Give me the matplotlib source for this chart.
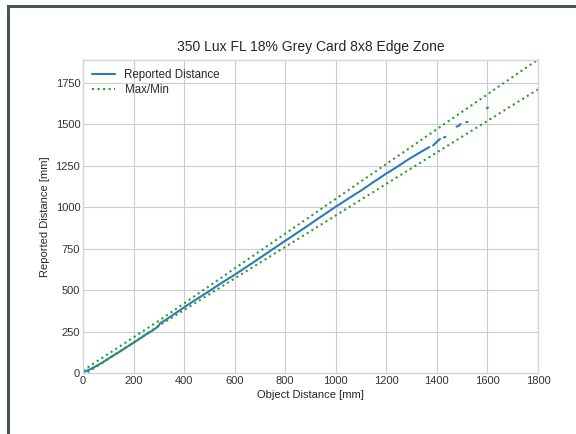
import numpy as np
import matplotlib
matplotlib.use("Agg")
from matplotlib import pyplot as plt
from matplotlib.lines import Line2D

# Reported distance readings (mm); NaN breaks the line where readings are missing
object_distance = [
    5, 25, 50, 75, 100, 125, 150, 175, 200, 225, 250, 275, 290, 300, 305,
    325, 350, 375, 400, 425, 450, 475, 500, 525, 550, 575, 600, 625, 650,
    675, 700, 725, 750, 775, 800, 825, 850, 875, 900, 925, 950, 975, 1000,
    1025, 1050, 1075, 1100, 1125, 1150, 1175, 1200, 1225, 1250, 1275, 1300,
    1325, 1350, 1370, np.nan,
    1385, 1400, 1412, np.nan,
    1428, 1434, np.nan,
    1478, 1486, 1494, np.nan,
    1516, 1521, np.nan,
    1597, 1602,
]
reported_distance = [
    8, 20, 40, 62, 86, 110, 133, 158, 182, 207, 233, 256, 272, 286, 300,
    318, 344, 370, 396, 421, 446, 470, 494, 520, 545, 569, 592, 618, 643,
    668, 694, 720, 746, 771, 797, 822, 848, 873, 899, 926, 951, 977, 1003,
    1027, 1052, 1076, 1100, 1126, 1152, 1177, 1203, 1226, 1250, 1276, 1300,
    1322, 1345, 1362, np.nan,
    1372, 1394, 1411, np.nan,
    1420, 1424, np.nan,
    1485, 1490, 1501, np.nan,
    1512, 1514, np.nan,
    1597, 1600,
]

# tolerance envelope: +/-15 mm up to 300 mm, +/-5 % beyond
bound_x = [0, 300, 1800]
bound_max = [15, 315, 1890]
bound_min = [-15, 285, 1710]

plt.style.use("seaborn-v0_8-whitegrid")
plt.rcParams["font.family"] = ["Liberation Sans", "DejaVu Sans"]

fig = plt.figure(figsize=(5.76, 4.34), dpi=100)
ax = fig.add_axes([83 / 576, 1 - 373 / 434, 455 / 576, (373 - 59.5) / 434])

ax.plot(object_distance, reported_distance, color="#2b7bba", lw=1.5,
        label="Reported Distance")
ax.plot(bound_x, bound_max, color="#2a9d2a", ls=":", lw=1.5, label="Max/Min")
ax.plot(bound_x, bound_min, color="#2a9d2a", ls=":", lw=1.5)

ax.set_xlim(0, 1800)
ax.set_ylim(0, 1890)
ax.set_xticks(np.arange(0, 1801, 200))
ax.set_yticks(np.arange(0, 1751, 250))
ax.tick_params(labelsize=8, colors="#333333", pad=2)
for s in ax.spines.values():
    s.set_color("#d5d5d5")

ax.set_title("350 Lux FL 18% Grey Card 8x8 Edge Zone", fontsize=10,
             color="#262626")
ax.set_xlabel("Object Distance [mm]", fontsize=8, color="#262626", labelpad=3)
ax.set_ylabel("Reported Distance [mm]", fontsize=8, color="#262626")
ax.legend(loc="upper left", fontsize=8.3, frameon=False, labelspacing=0.3,
          borderaxespad=0.4)

# dark frame around the picture (left and top edges visible)
fx = 8 / 576
fy = 1 - 6 / 434
fig.add_artist(Line2D([fx, fx], [0, fy], transform=fig.transFigure,
                      color="#48535c", lw=2.2, solid_capstyle="projecting"))
fig.add_artist(Line2D([fx, 1], [fy, fy], transform=fig.transFigure,
                      color="#48535c", lw=2.2, solid_capstyle="projecting"))

fig.savefig("out.png", dpi=100)
plt.close(fig)
